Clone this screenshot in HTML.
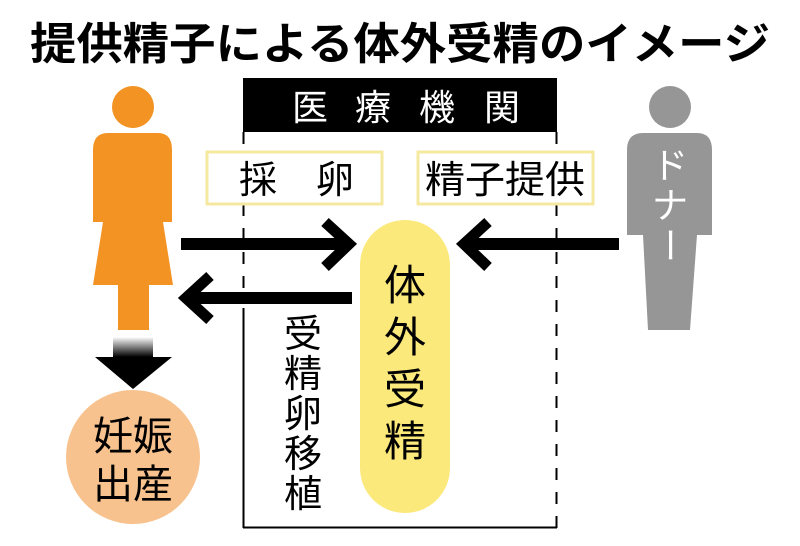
<!DOCTYPE html>
<html><head><meta charset="utf-8"><style>
html,body{margin:0;padding:0;background:#fff}
svg{display:block}
text{font-family:"Liberation Sans","Noto Sans CJK JP",sans-serif}
</style></head><body>
<svg width="800" height="546" viewBox="0 0 800 546" xmlns="http://www.w3.org/2000/svg">
<defs><linearGradient id="g" x1="0" y1="0" x2="0" y2="1"><stop offset="0" stop-color="#fff"/><stop offset="1" stop-color="#000"/></linearGradient></defs>
<text x="400" y="59" font-size="44" font-weight="bold" text-anchor="middle" textLength="740" lengthAdjust="spacingAndGlyphs">提供精子による体外受精のイメージ</text>
<!-- hospital box -->
<rect x="243" y="78" width="314" height="54" fill="#000"/>
<text x="310" y="120" font-size="36" fill="#fff" text-anchor="middle">医</text>
<text x="373" y="120" font-size="36" fill="#fff" text-anchor="middle">療</text>
<text x="437" y="120" font-size="36" fill="#fff" text-anchor="middle">機</text>
<text x="502" y="120" font-size="36" fill="#fff" text-anchor="middle">関</text>
<line x1="243.5" y1="132" x2="243.5" y2="300" stroke="#000" stroke-width="2" stroke-dasharray="12,12"/>
<line x1="243.5" y1="308" x2="243.5" y2="528" stroke="#000" stroke-width="2"/>
<line x1="243" y1="527.5" x2="557" y2="527.5" stroke="#000" stroke-width="2"/>
<line x1="556.5" y1="132" x2="556.5" y2="528" stroke="#000" stroke-width="2" stroke-dasharray="12,12"/>
<!-- labels -->
<rect x="207" y="152" width="175" height="52" fill="#fff" stroke="#f5e9a0" stroke-width="3"/>
<text x="258" y="193" font-size="38" text-anchor="middle">採</text>
<text x="335" y="193" font-size="38" text-anchor="middle">卵</text>
<rect x="418" y="152" width="175" height="52" fill="#fff" stroke="#f5e9a0" stroke-width="3"/>
<text x="505" y="193" font-size="38" text-anchor="middle" textLength="160" lengthAdjust="spacingAndGlyphs">精子提供</text>
<!-- woman -->
<circle cx="133" cy="107" r="21" fill="#f39324"/>
<path d="M108 133 H158 Q172 133 172 150 V222 H163 L173 285 H149 V330 H118 V285 H93 L103 222 H93 V150 Q93 133 108 133 Z" fill="#f39324"/>
<!-- donor -->
<circle cx="670" cy="107" r="21" fill="#969696"/>
<path d="M643 133 H697 Q712 133 712 150 V235 H697 L690 330 H648 L643 235 H627 V150 Q627 133 643 133 Z" fill="#969696"/>
<text x="670" y="178" font-size="36" fill="#fff" text-anchor="middle">ド</text>
<text x="670" y="218" font-size="36" fill="#fff" text-anchor="middle">ナ</text>
<text x="670" y="258" font-size="36" fill="#fff" text-anchor="middle" transform="rotate(90 670 245)">ー</text>
<!-- arrows -->
<g stroke="#000" stroke-width="12" fill="none">
<line x1="181" y1="244" x2="345" y2="244"/>
<polyline points="325,222 349,244 325,267" stroke-width="11"/>
<line x1="190" y1="298" x2="352" y2="298"/>
<polyline points="210,276 186,298 210,320" stroke-width="11"/>
<line x1="470" y1="244" x2="619" y2="244"/>
<polyline points="488,222 464,244 488,267" stroke-width="11"/>
</g>
<!-- pill -->
<rect x="360" y="220" width="90" height="293" rx="45" fill="#fbe97c"/>
<text x="405" y="300" font-size="42" text-anchor="middle">体</text>
<text x="405" y="352" font-size="42" text-anchor="middle">外</text>
<text x="405" y="404" font-size="42" text-anchor="middle">受</text>
<text x="405" y="456" font-size="42" text-anchor="middle">精</text>
<!-- vertical -->
<text x="303" y="347" font-size="38" text-anchor="middle">受</text>
<text x="303" y="387" font-size="38" text-anchor="middle">精</text>
<text x="303" y="427" font-size="38" text-anchor="middle">卵</text>
<text x="303" y="467" font-size="38" text-anchor="middle">移</text>
<text x="303" y="507" font-size="38" text-anchor="middle">植</text>
<!-- down arrow -->
<rect x="113" y="337" width="40" height="20" fill="url(#g)"/>
<polygon points="95,357 172,357 133,389" fill="#000"/>
<circle cx="133" cy="457" r="67" fill="#f7c28e"/>
<text x="133" y="450" font-size="40" text-anchor="middle">妊娠</text>
<text x="133" y="498" font-size="40" text-anchor="middle">出産</text>
</svg>
</body></html>
